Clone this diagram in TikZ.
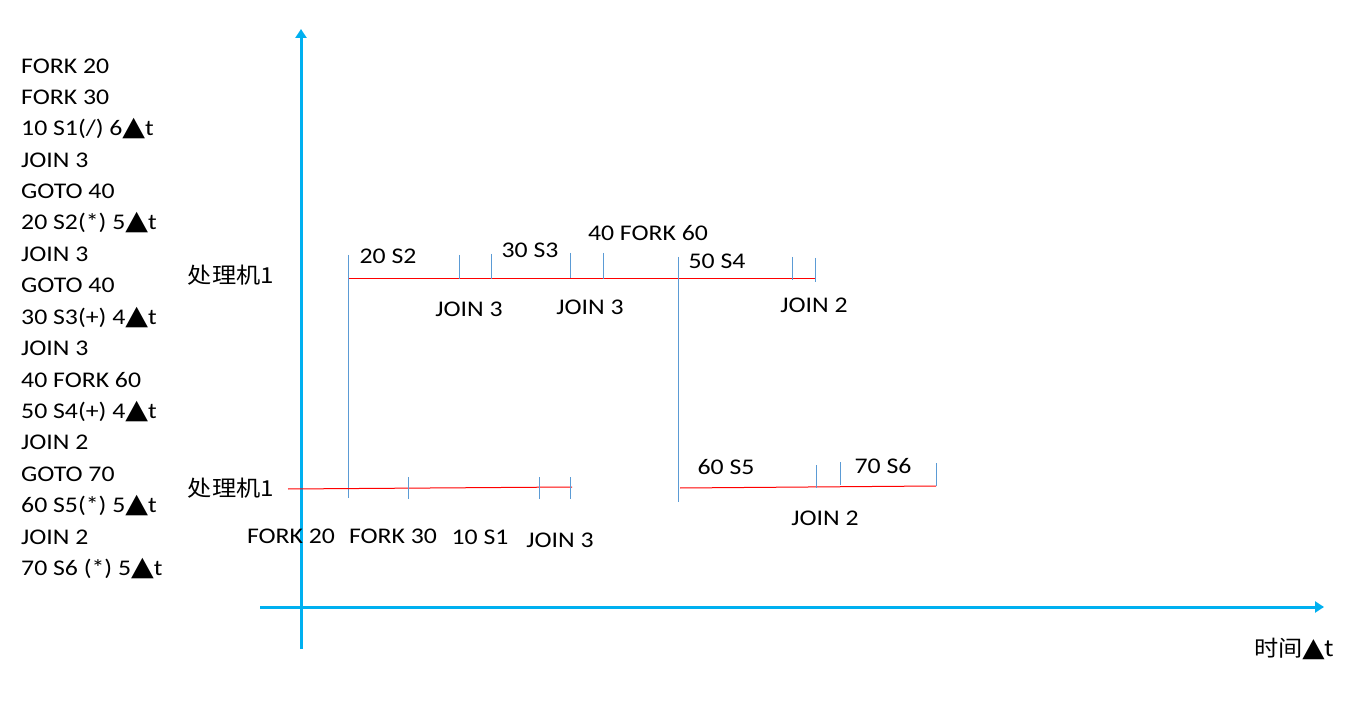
\documentclass[tikz,border=0pt]{standalone}
\usepackage{fontspec}
\setmainfont{Carlito}[FakeStretch=1.15]
\newfontfamily\symfont{DejaVu Sans}[FakeStretch=1.1]
\newfontfamily\cjkfont{Noto Sans CJK SC}[FakeStretch=1.1]
\newcommand{\tri}{{\symfont\scalebox{1.2}{▲}}}
\usetikzlibrary{arrows.meta}
\definecolor{axiscol}{HTML}{00B0F0}
\definecolor{tickcol}{HTML}{5B9BD5}
\definecolor{linered}{HTML}{FF0000}
\begin{document}
\begin{tikzpicture}[x=1pt,y=-1pt,
  axis/.style={draw=axiscol,line width=3pt,-{Triangle[width=11pt,length=9pt]}},
  tick/.style={draw=tickcol,line width=0.9pt},
  track/.style={draw=linered,line width=1pt},
  lbl/.style={inner sep=0pt,font=\fontsize{22.4}{26}\selectfont},
  cjk/.style={inner sep=0pt,font=\fontsize{22}{26}\cjkfont}]
\useasboundingbox[fill=white] (0,0) rectangle (1355,708);
% left list
\foreach \t [count=\i from 0] in {{FORK 20},{FORK 30},{10 S1(/) 6\tri t},{JOIN 3},{GOTO 40},{20 S2(*) 5\tri t},{JOIN 3},{GOTO 40},{30 S3(+) 4\tri t},{JOIN 3},{40 FORK 60},{50 S4(+) 4\tri t},{JOIN 2},{GOTO 70},{60 S5(*) 5\tri t},{JOIN 2},{70 S6 (*) 5\tri t}}
  \node[lbl,anchor=west] (l\i) at (21,{66+31.4*\i}) {\t};
% axes
\coordinate (yb) at (301,649);
\coordinate (yt) at (301,29);
\coordinate (xl) at (260,607);
\coordinate (xr) at (1324,607);
\draw[axis] (yb) -- (yt);
\draw[axis] (xl) -- (xr);
\node[cjk] (tlab) at (1294,649) {时间\tri{\fontsize{22.4}{26}\selectfont t}};
% processor labels
\node[cjk] (p1) at (231,275) {处理机1};
\node[cjk] (p2) at (231,488) {处理机1};
% upper track
\coordinate (u0) at (348,279);
\coordinate (u1) at (815,279);
\draw[track] (u0) -- (u1);
\coordinate (a1) at (348,255); \coordinate (a2) at (348,498);
\draw[tick] (a1) -- (a2);
\foreach \x/\ya/\yb [count=\k] in {459/255/279,491/254/279,570/253/278,603/253/279,792/257/280,815/258/282}{
  \coordinate (ut\k a) at (\x,\ya); \coordinate (ut\k b) at (\x,\yb);
  \draw[tick] (ut\k a) -- (ut\k b);}
\coordinate (b1) at (678,257); \coordinate (b2) at (678,502);
\draw[tick] (b1) -- (b2);
\node[lbl] (s2) at (388,256) {20 S2};
\node[lbl] (s3) at (530,250) {30 S3};
\node[lbl] (f60) at (648,233) {40 FORK 60};
\node[lbl] (s4) at (717,261) {50 S4};
\node[lbl] (j3a) at (469,309) {JOIN 3};
\node[lbl] (j3b) at (590,307) {JOIN 3};
\node[lbl] (j2a) at (814,305) {JOIN 2};
% lower left track
\coordinate (d0) at (288,489);
\coordinate (d1) at (572,487);
\draw[track] (d0) -- (d1);
\foreach \x [count=\k] in {408,539,570}{
  \coordinate (dt\k a) at (\x,477); \coordinate (dt\k b) at (\x,499);
  \draw[tick] (dt\k a) -- (dt\k b);}
\node[lbl] (f20) at (291,536) {FORK 20};
\node[lbl] (f30) at (393,536) {FORK 30};
\node[lbl] (s1) at (480,537) {10 S1};
\node[lbl] (j3c) at (560,540) {JOIN 3};
% lower right track
\coordinate (e0) at (680,488);
\coordinate (e1) at (936,486);
\draw[track] (e0) -- (e1);
\foreach \x/\ya/\yb [count=\k] in {816/465/488,840/462/485,936/463/486}{
  \coordinate (et\k a) at (\x,\ya); \coordinate (et\k b) at (\x,\yb);
  \draw[tick] (et\k a) -- (et\k b);}
\node[lbl] (s5) at (726,467) {60 S5};
\node[lbl] (s6) at (883,466) {70 S6};
\node[lbl] (j2b) at (825,518) {JOIN 2};
\end{tikzpicture}
\end{document}
